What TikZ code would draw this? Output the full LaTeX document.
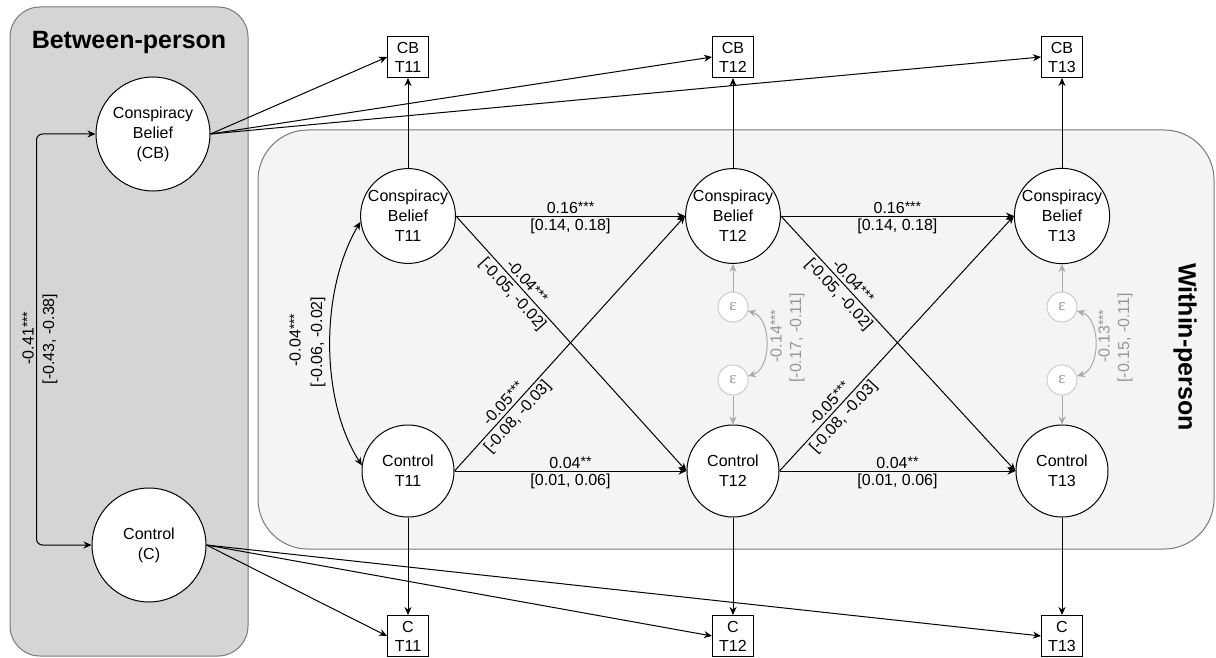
\documentclass[tikz,border=0pt]{standalone}
\usepackage{fontspec}
\setmainfont{Liberation Sans}
\newfontfamily\epsfont{Liberation Serif}
\usetikzlibrary{arrows.meta}
\definecolor{betweenfill}{RGB}{213,213,213}
\definecolor{withinfill}{RGB}{244,244,244}
\definecolor{panelline}{RGB}{120,120,120}
\definecolor{errline}{RGB}{170,170,170}
\definecolor{errcircle}{RGB}{204,204,204}
\definecolor{errtext}{RGB}{150,150,150}
\newcommand{\sig}[1]{{\fontsize{14}{14}\selectfont\raisebox{1.5pt}{#1}}}
\begin{document}
\begin{tikzpicture}[x=1pt,y=-1pt,
  lat/.style={circle,draw,fill=white,line width=1pt,inner sep=0pt,minimum size=92pt,align=center,font=\fontsize{16}{20}\selectfont},
  bigl/.style={lat,minimum size=114pt},
  obs/.style={rectangle,draw,fill=white,line width=1pt,minimum width=41pt,minimum height=41pt,inner sep=0pt,align=center,font=\fontsize{16}{19}\selectfont},
  err/.style={circle,draw=errcircle,fill=white,line width=1pt,minimum size=30pt,inner sep=0pt,text=errtext,font=\epsfont\fontsize{17}{17}\selectfont},
  arr/.style={draw,line width=1pt,-{Stealth[length=8pt,width=7pt]}},
  biarr/.style={draw,line width=1pt,{Stealth[length=8pt,width=7pt]}-{Stealth[length=8pt,width=7pt]}},
  garr/.style={arr,draw=errline},
  gbiarr/.style={biarr,draw=errline},
  lab/.style={font=\fontsize{16}{19}\selectfont,inner sep=2pt},
  dlab/.style={lab,sloped,inner sep=3pt},
  glab/.style={lab,text=errtext},
  ttl/.style={font=\bfseries\fontsize{25}{29}\selectfont}
]
\useasboundingbox (0,0) rectangle (1216,658);
% panels
\draw[panelline,fill=betweenfill,line width=1pt,rounded corners=30pt] (10,7) rectangle (248,656);
\draw[panelline,fill=withinfill,line width=1pt,rounded corners=50pt] (258,130) rectangle (1214,549);
\node[ttl] (bt) at (129,42) {Between-person};
\node[ttl,rotate=-90] (wt) at (1185,347) {Within-person};

% between-person latent
\node[bigl] (CB) at (153,134) {Conspiracy\\Belief\\(CB)};
\node[bigl] (C) at (149,545) {Control\\(C)};

% within-person latents
\node[lat] (CB1) at (408,216) {Conspiracy\\Belief\\T11};
\node[lat] (CB2) at (733,216) {Conspiracy\\Belief\\T12};
\node[lat] (CB3) at (1062,216) {Conspiracy\\Belief\\T13};
\node[lat] (C1) at (408,471) {Control\\T11};
\node[lat] (C2) at (733,471) {Control\\T12};
\node[lat] (C3) at (1062,471) {Control\\T13};

% observed
\node[obs] (B1) at (408,57) {CB\\T11};
\node[obs] (B2) at (733,57) {CB\\T12};
\node[obs] (B3) at (1062,57) {CB\\T13};
\node[obs] (D1) at (408,636) {C\\T11};
\node[obs] (D2) at (733,636) {C\\T12};
\node[obs] (D3) at (1062,636) {C\\T13};

% residuals
\node[err] (E2a) at (733,307) {ε};
\node[err] (E2b) at (733,380) {ε};
\node[err] (E3a) at (1062,307) {ε};
\node[err] (E3b) at (1062,380) {ε};

% between covariance
\draw[biarr,rounded corners=6pt] (CB.west) -- ++(-59,0) |- (C.west);
\node[lab,rotate=90] (r1) at (28,338) {-0.41\sig{***}};
\node[lab,rotate=90] (r2) at (50,339) {[-0.43, -0.38]};

% between to observed
\draw[arr] (CB.east) -- (B1.west);
\draw[arr] (CB.east) -- (B2.west);
\draw[arr] (CB.east) -- (B3.west);
\draw[arr] (C.east) -- (D1.west);
\draw[arr] (C.east) -- (D2.west);
\draw[arr] (C.east) -- (D3.west);

% within to observed
\draw[arr] (CB1.north) -- (B1.south);
\draw[arr] (CB2.north) -- (B2.south);
\draw[arr] (CB3.north) -- (B3.south);
\draw[arr] (C1.south) -- (D1.north);
\draw[arr] (C2.south) -- (D2.north);
\draw[arr] (C3.south) -- (D3.north);

% within covariance T11
\draw[biarr] (CB1.187) .. controls (320,290) and (320,400) .. (C1.173);
\node[lab,rotate=90] (w1) at (295,340) {-0.04\sig{***}};
\node[lab,rotate=90] (w2) at (318,342) {[-0.06, -0.02]};

% cross-lagged T11 -> T12
\draw[arr] (CB1.east) -- node[lab,above]{0.16\sig{***}} node[lab,below]{[0.14, 0.18]} (CB2.west);
\draw[arr] (C1.east) -- node[lab,above]{0.04\sig{**}} node[lab,below]{[0.01, 0.06]} (C2.west);
\draw[arr] (CB1.east) -- node[dlab,above,pos=0.28]{-0.04\sig{***}} node[dlab,below,pos=0.28]{[-0.05, -0.02]} (C2.west);
\draw[arr] (C1.east) -- node[dlab,above,pos=0.24]{-0.05\sig{***}} node[dlab,below,pos=0.24]{[-0.08, -0.03]} (CB2.west);

% cross-lagged T12 -> T13
\draw[arr] (CB2.east) -- node[lab,above]{0.16\sig{***}} node[lab,below]{[0.14, 0.18]} (CB3.west);
\draw[arr] (C2.east) -- node[lab,above]{0.04\sig{**}} node[lab,below]{[0.01, 0.06]} (C3.west);
\draw[arr] (CB2.east) -- node[dlab,above,pos=0.28]{-0.04\sig{***}} node[dlab,below,pos=0.28]{[-0.05, -0.02]} (C3.west);
\draw[arr] (C2.east) -- node[dlab,above,pos=0.24]{-0.05\sig{***}} node[dlab,below,pos=0.24]{[-0.08, -0.03]} (CB3.west);

% residual paths T12
\draw[garr] (E2a.north) -- (CB2.south);
\draw[garr] (E2b.south) -- (C2.north);
\draw[gbiarr] (E2a.-15) .. controls (772,318) and (772,369) .. (E2b.15);
\node[glab,rotate=90] (g1) at (776,336) {-0.14\sig{***}};
\node[glab,rotate=90] (g2) at (797,338) {[-0.17, -0.11]};

% residual paths T13
\draw[garr] (E3a.north) -- (CB3.south);
\draw[garr] (E3b.south) -- (C3.north);
\draw[gbiarr] (E3a.-15) .. controls (1101,318) and (1101,369) .. (E3b.15);
\node[glab,rotate=90] (g3) at (1104,336) {-0.13\sig{***}};
\node[glab,rotate=90] (g4) at (1125,338) {[-0.15, -0.11]};
\end{tikzpicture}
\end{document}
